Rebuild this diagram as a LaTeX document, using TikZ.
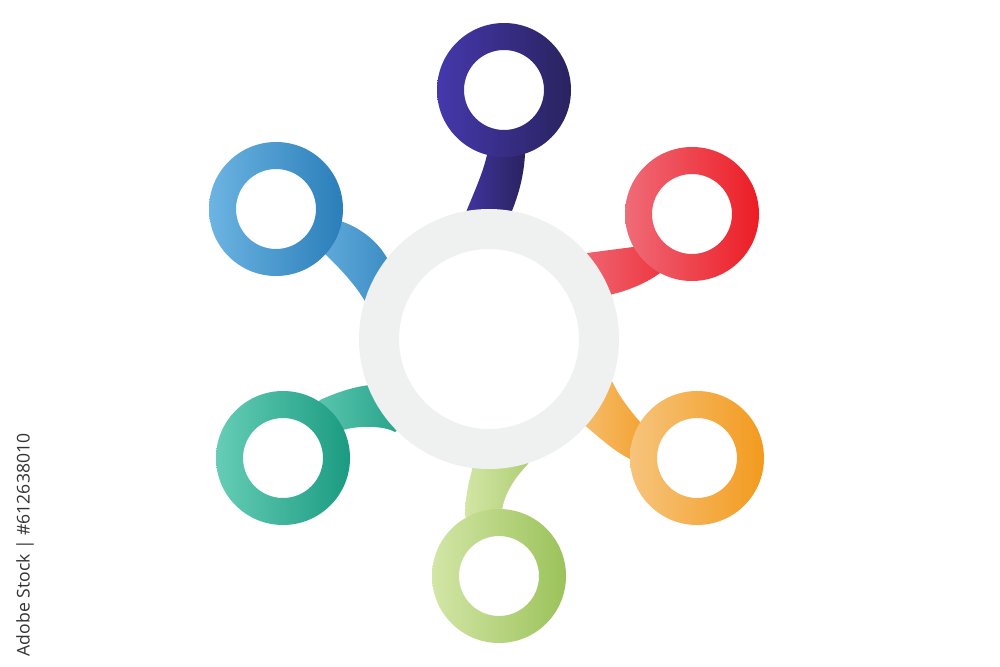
\documentclass[tikz,border=0pt]{standalone}
\usepackage{fontspec}
\newfontfamily\idfont{Open Sans}
\definecolor{navyL}{HTML}{4538AC}
\definecolor{navyR}{HTML}{29235F}
\definecolor{blueL}{HTML}{6CB4E2}
\definecolor{blueR}{HTML}{2A7EB9}
\definecolor{redL}{HTML}{EF6C78}
\definecolor{redR}{HTML}{ED1C24}
\definecolor{orangeL}{HTML}{F6C47C}
\definecolor{orangeR}{HTML}{F39A1E}
\definecolor{greenL}{HTML}{D3E6A6}
\definecolor{greenR}{HTML}{9BC25A}
\definecolor{tealL}{HTML}{66CDB6}
\definecolor{tealR}{HTML}{1A9B81}
\definecolor{hubgray}{HTML}{EFF1F1}
\definecolor{idgray}{HTML}{333333}
\begin{document}
\begin{tikzpicture}[x=0.01cm,y=-0.01cm,
  ringshade/.style 2 args={left color=#1, right color=#2, even odd rule},
  stemshade/.style 2 args={left color=#1, right color=#2},
  idtext/.style={font=\idfont\fontsize{5pt}{6pt}\selectfont, text=idgray, inner sep=0pt, rotate=90, anchor=east}]
\useasboundingbox (0,0) rectangle (1000,667);
\fill[white] (0,0) rectangle (1000,667);
% centres
\coordinate (hub) at (489,339);
\coordinate (navy) at (504,90);
\coordinate (blue) at (276,209);
\coordinate (red) at (692,214);
\coordinate (orange) at (697,458);
\coordinate (green) at (499,576);
\coordinate (teal) at (283,458);
% stems
\shade[stemshade={navyL!90!navyR}{navyR}] (490,140) -- (487,155) .. controls (481,180) and (470,200) .. (460,228) -- (503,232) .. controls (515,205) and (523,185) .. (525,155) -- (522,140) -- cycle;
\shade[stemshade={blueL!85!blueR}{blueR!80!blueL}] (330,218) -- (343,222) .. controls (358,227) and (377,240) .. (387,258) -- (398,278) -- (375,318) -- (363,298) .. controls (355,285) and (340,268) .. (324,253) -- (318,245) -- cycle;
\shade[stemshade={redL}{redR!70!redL}] (645,240) -- (633,247) -- (587,253) -- (572,256) -- (595,301) -- (613,294) .. controls (630,290) and (648,282) .. (660,273) -- (668,262) -- cycle;
\shade[stemshade={orangeL!90!orangeR}{orangeR!85!orangeL}] (650,430) -- (640,422) .. controls (630,410) and (620,398) .. (613,383) -- (600,362) -- (575,418) -- (588,428) .. controls (603,441) and (617,453) .. (632,460) -- (645,462) -- cycle;
\shade[stemshade={greenL}{greenR!75!greenL}] (470,530) -- (465,515) .. controls (465,500) and (468,485) .. (472,470) -- (475,448) -- (540,448) -- (527,465) .. controls (515,478) and (505,492) .. (502,510) -- (500,525) -- cycle;
\shade[stemshade={tealL!90!tealR}{tealR!85!tealL}] (310,410) -- (320,400) .. controls (333,394) and (350,388) .. (363,386) -- (382,383) -- (402,425) -- (395,432) .. controls (385,426) and (360,425) .. (343,430) -- (335,440) -- cycle;
% hub ring
\fill[hubgray, even odd rule] (hub) circle[radius=130] circle[radius=90];
% outer rings
\shade[ringshade={navyL}{navyR}] (navy) circle[radius=67] circle[radius=40];
\shade[ringshade={blueL}{blueR}] (blue) circle[radius=67] circle[radius=40];
\shade[ringshade={redL}{redR}] (red) circle[radius=67] circle[radius=40];
\shade[ringshade={orangeL}{orangeR}] (orange) circle[radius=67] circle[radius=40];
\shade[ringshade={greenL}{greenR}] (green) circle[radius=67] circle[radius=40];
\shade[ringshade={tealL}{tealR}] (teal) circle[radius=67] circle[radius=40];
% id text
\begin{scope}
\clip (0,0) rectangle (1000,667);
\node[idtext] (stockid) at (25,433) {Adobe Stock | \#612638010};
\end{scope}
\end{tikzpicture}
\end{document}
